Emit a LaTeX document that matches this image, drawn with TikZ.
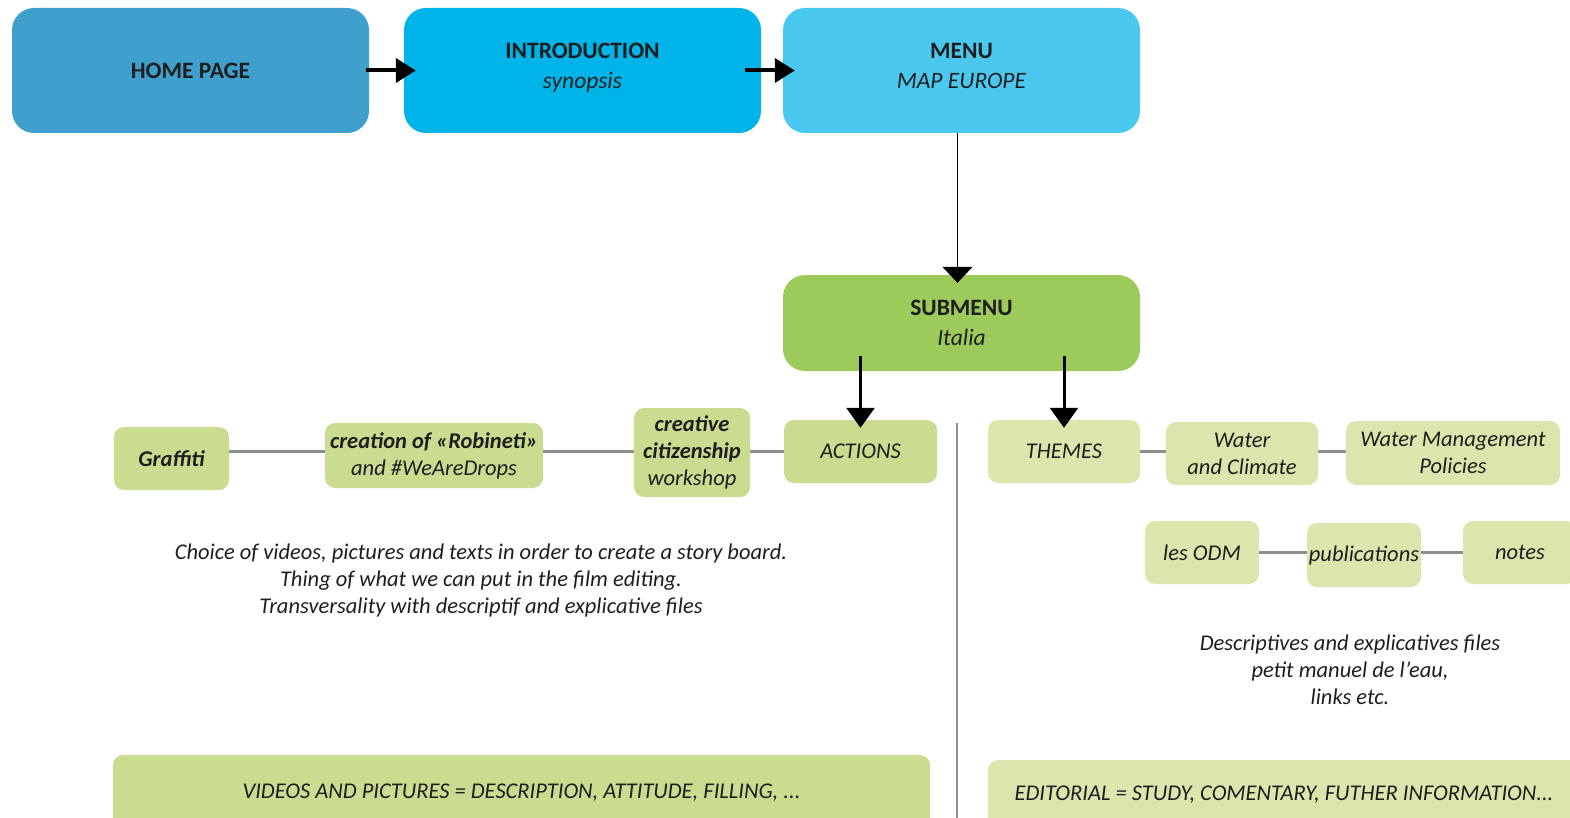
\documentclass[tikz,border=0pt]{standalone}
\usepackage{fontspec}
\setmainfont{Carlito}
\usetikzlibrary{arrows.meta}
\definecolor{homeblue}{HTML}{3FA0CD}
\definecolor{introblue}{HTML}{00B4E9}
\definecolor{menublue}{HTML}{4AC8F0}
\definecolor{subgreen}{HTML}{9DCB5B}
\definecolor{actgreen}{HTML}{C9DC8F}
\definecolor{themegreen}{HTML}{DCE6AC}
\definecolor{linkgray}{HTML}{8E8E8E}
\definecolor{ink}{HTML}{1E1E1E}

\begin{document}
\begin{tikzpicture}[x=1pt,y=-1pt,>=Triangle]

  \tikzstyle{page}=[rectangle,rounded corners=22pt,minimum width=357pt,
  		    minimum height=125pt,inner sep=0pt,align=center,text=ink,
  		    font=\fontsize{23.5}{30}\selectfont]
  \tikzstyle{sub page}=[page,fill=subgreen,minimum height=96pt]
  \tikzstyle{item}=[rectangle,rounded corners=10pt,inner sep=0pt,align=center,
  		    text=ink,fill=actgreen,minimum height=63pt,
  		    font=\fontsize{22.5}{27}\selectfont\itshape]
  \tikzstyle{theme item}=[item,fill=themegreen]
  \tikzstyle{note}=[align=center,text=ink,font=\fontsize{22.5}{27}\selectfont\itshape]
  \tikzstyle{link}=[draw=linkgray,line width=3.5pt]
  \tikzstyle{flowarrow}=[->,line width=4pt,-{Triangle[length=20pt,width=24pt]}]
  \tikzstyle{downarrow}=[->,line width=3pt,-{Triangle[length=20pt,width=28pt]}]

  \useasboundingbox (0,0) rectangle (1570,818);
  \clip (0,0) rectangle (1570,818);

  % pages
  \node [page,fill=homeblue] (home) at (190.5,70.5) {\textbf{HOME PAGE}};
  \node [page,fill=introblue] (intro) at (582.5,70.5)
        {\textbf{INTRODUCTION}\\ \textit{synopsis}\\[-21pt]};
  \node [page,fill=menublue] (menu) at (961.5,70.5)
        {\textbf{MENU}\\ \textit{MAP EUROPE}\\[-21pt]};
  \node [sub page] (submenu) at (961.5,323) {\textbf{SUBMENU}\\ \textit{Italia}};

  % actions side
  \node [item,minimum width=153pt] (actions) at (860.5,451.5) {ACTIONS};
  \node [item,minimum width=116pt,minimum height=89pt] (citizen) at (692,452.5)
        {\textbf{creative}\\ \textbf{citizenship}\\ workshop};
  \node [item,minimum width=218pt,minimum height=65pt] (robineti) at (434,455.5)
        {\textbf{creation of «Robineti»}\\ and \#WeAreDrops};
  \node [item,minimum width=115pt] (graffiti) at (171.5,458.5) {\textbf{Graffiti}};

  % themes side
  \node [theme item,minimum width=152pt] (themes) at (1064,451.5) {THEMES};
  \node [theme item,minimum width=152pt] (water) at (1242,453.5) {Water\\ and Climate};
  \node [theme item,minimum width=214pt,minimum height=64pt] (policies) at (1453,453)
        {Water Management\\ Policies};
  \node [theme item,minimum width=114pt] (odm) at (1202,552.5) {les ODM};
  \node [theme item,minimum width=114pt,minimum height=64pt] (publi) at (1364,555)
        {publications};
  \node [theme item,minimum width=114pt] (notes) at (1520,552.5) {notes};

  % notes
  \node [note] (actnote) at (481,580)
        {Choice of videos, pictures and texts in order to create a story board.\\
         Thing of what we can put in the film editing.\\
         Transversality with descriptif and explicative files};
  \node [note] (themenote) at (1350,670)
        {Descriptives and explicatives files\\ petit manuel de l’eau,\\ links etc.};

  \node [item,minimum width=817pt,minimum height=75pt] (videos) at (521.5,792.5)
        {VIDEOS AND PICTURES = DESCRIPTION, ATTITUDE, FILLING, ...};
  \node [theme item,minimum width=592pt,minimum height=70pt] (editorial) at (1284,795)
        {EDITORIAL = STUDY, COMENTARY, FUTHER INFORMATION...};

  % divider
  \draw [draw=linkgray,line width=2.5pt] (957,423) -- (957,818);

  % connectors
  \draw [flowarrow,shorten <=-3pt,shorten >=-12pt] (home) -- (intro);
  \draw [flowarrow,shorten <=-16pt,shorten >=-12pt] (intro) -- (menu);
  \draw [->,line width=1.5pt,-{Triangle[length=16pt,width=30pt]},shorten >=-8pt]
        ([xshift=-4pt]menu.south) -- ([xshift=-4pt]submenu.north);
  \draw [downarrow,shorten <=-15pt,shorten >=-8pt] (submenu.south -| actions.north) -- (actions.north);
  \draw [downarrow,shorten <=-15pt,shorten >=-8pt] (submenu.south -| themes.north) -- (themes.north);

  \draw [link] (graffiti.east |- actions.west) -- (robineti.west |- actions.west);
  \draw [link] (robineti.east |- actions.west) -- (citizen.west |- actions.west);
  \draw [link] (citizen.east |- actions.west) -- (actions.west);
  \draw [link] (themes.east) -- (water.west |- themes.east);
  \draw [link] (water.east |- themes.east) -- (policies.west |- themes.east);
  \draw [link] (odm.east) -- (publi.west |- odm.east);
  \draw [link] (publi.east |- odm.east) -- (notes.west);

\end{tikzpicture}
\end{document}
